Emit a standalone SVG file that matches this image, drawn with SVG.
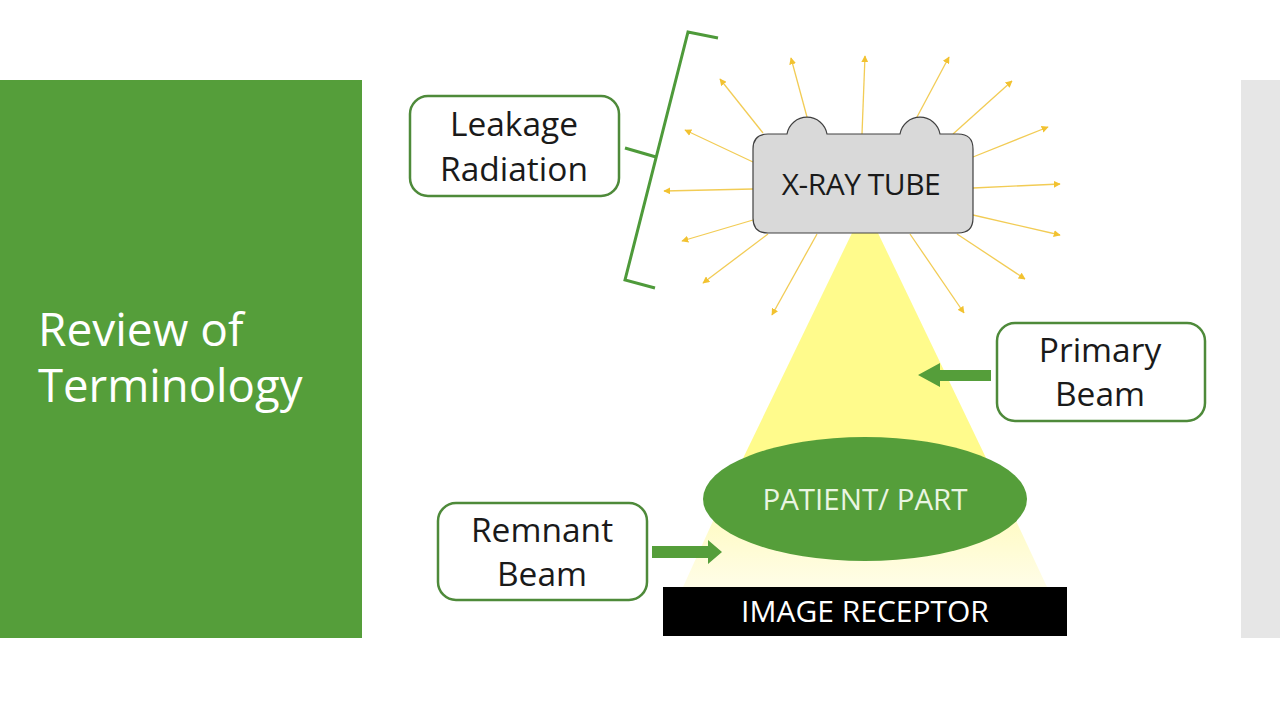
<svg xmlns="http://www.w3.org/2000/svg" width="1280" height="720" viewBox="0 0 1280 720">
<defs>
<style>
.t{font-family:"Open Sans","Noto Sans","Liberation Sans",sans-serif;}
.box{fill:#fff;stroke:#4E8A3A;stroke-width:2.5;}
.lbl{font-size:33.5px;fill:#1a1a1a;text-anchor:middle;}
.ray{stroke:#F2CC55;stroke-width:1.3;fill:none;marker-end:url(#ah);}
.garrow{fill:#559E3A;}
</style>
<marker id="ah" viewBox="0 0 10 10" refX="9" refY="5" markerWidth="7" markerHeight="7" markerUnits="userSpaceOnUse" orient="auto">
<path d="M0,0 L10,5 L0,10 z" fill="#F2C230"/>
</marker>
<linearGradient id="pale" x1="0" y1="0" x2="0" y2="1">
<stop offset="0" stop-color="#FFFBC0"/>
<stop offset="1" stop-color="#FFFDE8"/>
</linearGradient>
</defs>
<rect width="1280" height="720" fill="#fff"/>
<g id="title-panel">
<rect x="0" y="80" width="362" height="558" fill="#559E3A"/>
<text class="t" x="38" y="346" font-size="46" fill="#fff">Review of</text>
<text class="t" x="38" y="402" font-size="45.5" fill="#fff">Terminology</text>
</g>
<rect x="1241" y="80" width="39" height="558" fill="#E6E6E6"/>
<g id="beam">
<polygon points="852,233 878,233 1011,510 718,510" fill="#FFFB8C"/>
<polygon points="718,510 1011,510 1047,587 683,587" fill="url(#pale)"/>
</g>
<g id="connectors">
<line class="ray" x1="763" y1="133" x2="720" y2="79"/>
<line class="ray" x1="807" y1="117" x2="791" y2="58"/>
<line class="ray" x1="862" y1="134" x2="865" y2="56"/>
<line class="ray" x1="917" y1="117" x2="949" y2="57"/>
<line class="ray" x1="953" y1="134" x2="1012" y2="81"/>
<line class="ray" x1="973" y1="157" x2="1048" y2="127"/>
<line class="ray" x1="973" y1="188" x2="1060" y2="184"/>
<line class="ray" x1="973" y1="215" x2="1060" y2="235"/>
<line class="ray" x1="957" y1="234" x2="1025" y2="279"/>
<line class="ray" x1="910" y1="234" x2="964" y2="313"/>
<line class="ray" x1="817" y1="234" x2="772" y2="315"/>
<line class="ray" x1="768" y1="234" x2="703" y2="283"/>
<line class="ray" x1="753" y1="220" x2="682" y2="241"/>
<line class="ray" x1="753" y1="189" x2="664" y2="191"/>
<line class="ray" x1="753" y1="162" x2="685" y2="130"/>
<polyline points="718,38 688,32 625,280 655,288" fill="none" stroke="#4E9A3A" stroke-width="3"/>
<line x1="625" y1="148" x2="656" y2="157" stroke="#4E9A3A" stroke-width="3"/>
<polygon class="garrow" points="991,370 940,370 940,363 918,375 940,387 940,381 991,381"/>
<polygon class="garrow" points="652,546 708,546 708,540 722,552 708,564 708,558 652,558"/>
</g>
<g id="xray-tube">
<path d="M768,134 L787,134 A20.3,20.3 0 0 1 827,134 L900,134 A20.3,20.3 0 0 1 940,134 L958,134 Q973,134 973,149 L973,218 Q973,233 958,233 L768,233 Q753,233 753,218 L753,149 Q753,134 768,134 Z" fill="#D9D9D9" stroke="#404040" stroke-width="1.2"/>
<text class="t" x="861" y="195" font-size="30" fill="#1a1a1a" text-anchor="middle" letter-spacing="-0.5">X-RAY TUBE</text>
</g>
<g id="leakage-radiation">
<rect class="box" x="410" y="96" width="209" height="100" rx="18"/>
<text class="t lbl" x="514" y="136">Leakage</text>
<text class="t lbl" x="514" y="181">Radiation</text>
</g>
<g id="primary-beam">
<rect class="box" x="997" y="323" width="208" height="98" rx="18"/>
<text class="t lbl" x="1100" y="362">Primary</text>
<text class="t lbl" x="1100" y="406">Beam</text>
</g>
<g id="patient">
<ellipse cx="865" cy="499" rx="162" ry="62" fill="#559E3A"/>
<text class="t" x="865" y="510" font-size="29.5" fill="#EAF5E2" text-anchor="middle">PATIENT/ PART</text>
</g>
<g id="remnant-beam">
<rect class="box" x="438" y="503" width="209" height="97" rx="18"/>
<text class="t lbl" x="542" y="542">Remnant</text>
<text class="t lbl" x="542" y="586">Beam</text>
</g>
<g id="image-receptor">
<rect x="663" y="587" width="404" height="49" fill="#000"/>
<text class="t" x="865" y="622" font-size="30" fill="#fff" text-anchor="middle">IMAGE RECEPTOR</text>
</g>
</svg>
